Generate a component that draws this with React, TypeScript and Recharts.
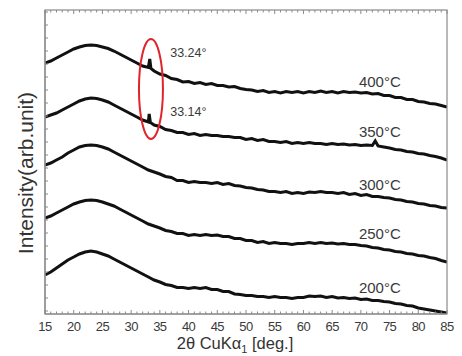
import React from 'react';
import { LineChart, Line, XAxis, YAxis, ReferenceDot } from 'recharts';

// 2θ sampling (deg.)
const angles = [
  15, 16, 17, 18, 19, 20, 21, 22, 23, 24, 25, 26, 27, 28, 29, 30, 31, 32, 33, 34,
  35, 36, 37, 38, 39, 40, 41, 42, 43, 44, 45, 46, 47, 48, 49, 50, 51, 52, 53, 54,
  55, 56, 57, 58, 59, 60, 61, 62, 63, 64, 65, 66, 67, 68, 69, 70, 71, 72, 73, 74,
  75, 76, 77, 78, 79, 80, 81, 82, 83, 84, 85,
];

// Intensity (arb. unit, vertically offset traces)
const i400 = [
  251, 253, 256, 259, 262, 265, 267, 268.5, 269, 268.5, 267, 265.5, 263, 260, 257, 254, 251, 248, 246.5, 243,
  240, 238.5, 235.5, 234.5, 232, 232.5, 230.5, 231.5, 229.5, 230.5, 228.5, 228.5, 227, 227.5, 225.5, 224.5, 224, 222.5, 223.5, 221.5,
  222.5, 221, 222.5, 221.5, 222.5, 221, 222.5, 221.5, 223, 221.5, 222.5, 221, 222.5, 221.5, 222, 221, 221.5, 220, 220.5, 218.5,
  218.5, 216.5, 216.5, 214.5, 214.5, 212.5, 212, 210.5, 210, 208.5, 207,
];
const i350 = [
  197, 199, 201, 204, 207, 210, 213, 215, 216, 215.5, 214, 212, 209, 206, 203, 200, 197, 194, 192, 189,
  187.5, 184.5, 183.5, 181.5, 181.5, 179.5, 180.5, 178.5, 179.5, 178.5, 178.5, 177.5, 177.5, 176.5, 176.5, 174.5, 175.5, 173.5, 174.5, 172.5,
  172.5, 171.5, 172.5, 170.5, 171.5, 170.5, 171.5, 170.5, 170.5, 169.5, 170.5, 169.5, 170, 169, 169.5, 168.5, 169, 168.5, 168, 167,
  166, 164.5, 164, 162.5, 162, 160.5, 160, 158.5, 157.5, 156, 154,
];
const i300 = [
  149, 151, 154, 157, 161, 164, 167, 168.5, 169, 168.5, 167, 165, 162, 159, 156, 153, 150, 147, 144, 142,
  140, 137.5, 136.5, 133.5, 133.5, 131.5, 132.5, 131.5, 131.5, 130.5, 131.5, 129.5, 130.5, 128.5, 128, 126.5, 126, 124.5, 124, 122.5,
  122.5, 121.5, 122.5, 120.5, 121.5, 120.5, 122, 121.5, 122.5, 121.5, 121.5, 120.5, 121.5, 119.5, 120.5, 118.5, 119.5, 117.5, 117.5, 116.5,
  116, 114.5, 114, 112.5, 112, 110.5, 110, 108.5, 108, 106.5, 106,
];
const i250 = [
  96, 98, 101, 104, 107, 110, 112, 113.5, 114, 113.5, 112, 110, 108, 105, 102, 99, 96, 93, 90, 88,
  86, 83.5, 82.5, 80.5, 80.5, 78.5, 79.5, 78.5, 79.5, 78.5, 79, 77.5, 77.5, 75.5, 75.5, 73.5, 73.5, 71.5, 72.5, 70.5,
  71.5, 70.5, 70.5, 69.5, 70.5, 70.5, 71.5, 70.5, 71.5, 70.5, 71, 70, 70.5, 69.5, 69.5, 68.5, 68, 66.5, 66, 64.5,
  64, 62.5, 62, 60.5, 60, 58.5, 58, 56.5, 55.5, 53.5, 52,
];
const i200 = [
  39, 42, 46, 50, 54, 57, 60, 62, 63, 62, 60, 58, 55, 52, 49, 46, 43, 40, 37, 34,
  32, 29.5, 28.5, 26.5, 26.5, 25.5, 26.5, 25.5, 26.5, 24.5, 24.5, 22.5, 22.5, 20, 19.5, 18.5, 18.5, 17.5, 17.5, 16.5,
  17.5, 16.5, 16.5, 15.5, 16.5, 16.5, 18, 17.5, 18, 16.5, 17.5, 16, 16.5, 15.5, 16, 14.5, 15, 13.5, 13.5, 12.5,
  12, 10.5, 10, 8.5, 8, 6, 5, 4, 3, 2, 1,
];

// Extra read points: sharp peaks and small bump
const extra400Angles = [33.24, 33.45];
const extra400Values = [255, 245.5];
const extra350Angles = [33.14, 33.35, 72.5];
const extra350Values = [200, 191.5, 173];

const seriesNames = ['400°C', '350°C', '300°C', '250°C', '200°C'];
const labelAngles = [73.3, 73.3, 73.3, 73.3, 73.3];
const labelValues = [233, 183, 130, 81, 27];

const peakTexts = ['33.24°', '33.14°'];
const peakTextAngles = [36.8, 36.8];
const peakTextValues = [261, 202];

const ellipseAngle = 33.45;
const ellipseValue = 225;

const xMajorTicks = [15, 20, 25, 30, 35, 40, 45, 50, 55, 60, 65, 70, 75, 80, 85];
const yMinorTicks = [3, 16, 29, 42, 55, 68, 81, 94, 107, 120, 133, 146, 159, 172, 185, 198, 211, 224, 237, 250, 263, 276, 289, 302];

const build = (vals: number[], exA: number[] = [], exV: number[] = []) => {
  const rows = angles.map((a, i) => ({ angle: a, v: vals[i] }));
  exA.forEach((a, i) => rows.push({ angle: a, v: exV[i] }));
  rows.sort((p, q) => p.angle - q.angle);
  return rows;
};

const seriesData = [
  build(i400, extra400Angles, extra400Values),
  build(i350, extra350Angles, extra350Values),
  build(i300),
  build(i250),
  build(i200),
];

const FONT = '"Liberation Sans", Arial, sans-serif';
const AXIS = '#8a8a8a';
const X_DOMAIN: [number, number] = [15, 85];
const Y_DOMAIN: [number, number] = [0, 304];
const MARGIN = { top: 10, right: 15, bottom: 0, left: 44 };

const BottomTick = (props: any) => {
  const { x, y, payload } = props;
  const major = xMajorTicks.includes(payload.value);
  return (
    <g>
      <line x1={x} x2={x} y1={y} y2={y - (major ? 4 : 2.5)} stroke={AXIS} strokeWidth={1} />
      {/* matching inward tick on the top frame edge */}
      <line x1={x} x2={x} y1={MARGIN.top} y2={MARGIN.top + (major ? 4 : 2.5)} stroke={AXIS} strokeWidth={1} />
      {major && (
        <text x={x} y={y + 16.5} textAnchor="middle" fontSize={13} letterSpacing={-0.6} fill="#3a3a3a" fontFamily={FONT}>
          {payload.value}
        </text>
      )}
    </g>
  );
};

const LeftTick = (props: any) => {
  const { x, y } = props;
  return <line x1={x} x2={x + 3} y1={y} y2={y} stroke={AXIS} strokeWidth={1} />;
};

const XTitle = (props: any) => {
  const vb = props.viewBox;
  const cx = vb.x + vb.width / 2 - 11;
  const top = MARGIN.top;
  return (
    <g>
      <rect
        x={vb.x}
        y={top}
        width={vb.width}
        height={vb.y - top}
        fill="none"
        stroke={AXIS}
        strokeWidth={1.2}
      />
      <text x={cx} y={vb.y + 35} textAnchor="middle" fontSize={16.5} fill="#333" fontFamily={FONT}>
        2θ CuKα
        <tspan fontSize={11} dy={4}>1</tspan>
        <tspan dy={-4}> [deg.]</tspan>
      </text>
    </g>
  );
};

const YTitle = (props: any) => {
  const vb = props.viewBox;
  const cx = vb.x - 19;
  const cy = vb.y + vb.height / 2 + 11;
  return (
    <text
      x={cx}
      y={cy}
      transform={`rotate(-90, ${cx}, ${cy})`}
      textAnchor="middle"
      dominantBaseline="central"
      fontSize={21}
      fill="#333"
      fontFamily={FONT}
    >
      Intensity(arb.unit)
    </text>
  );
};

const makeTextShape = (txt: string, size: number) => (p: any) => (
  <text x={p.cx} y={p.cy} textAnchor={size > 13 ? 'middle' : 'start'} dominantBaseline="central" fontSize={size} fill="#3a3a3a" fontFamily={FONT}>
    {txt}
  </text>
);

const EllipseShape = (p: any) => (
  <ellipse cx={p.cx} cy={p.cy} rx={12} ry={50} fill="none" stroke="#e0242c" strokeWidth={2} />
);

export default function App() {
  return (
    <div style={{ position: 'absolute', left: 0, top: 0, background: '#fff' }}>
      <LineChart width={462} height={356} margin={MARGIN}>
        <XAxis
          type="number"
          dataKey="angle"
          domain={X_DOMAIN}
          ticks={angles}
          interval={0}
          orientation="bottom"
          height={42}
          tickSize={0}
          tickMargin={0}
          tickLine={false}
          tick={<BottomTick />}
          axisLine={{ stroke: AXIS, strokeWidth: 1.2 }}
          label={<XTitle />}
          allowDataOverflow
        />
        <YAxis
          type="number"
          domain={Y_DOMAIN}
          ticks={yMinorTicks}
          interval={0}
          width={1}
          tickSize={0}
          tickMargin={0}
          tickLine={false}
          tick={<LeftTick />}
          axisLine={{ stroke: AXIS, strokeWidth: 1.2 }}
          label={<YTitle />}
          allowDataOverflow
        />
        {seriesData.map((d, i) => (
          <Line
            key={seriesNames[i]}
            data={d}
            dataKey="v"
            type="linear"
            stroke="#111"
            strokeWidth={3}
            dot={false}
            isAnimationActive={false}
          />
        ))}
        {seriesNames.map((n, i) => (
          <ReferenceDot
            key={'lab' + n}
            x={labelAngles[i]}
            y={labelValues[i]}
            r={0}
            ifOverflow="visible"
            shape={makeTextShape(n, 15)}
          />
        ))}
        {peakTexts.map((t, i) => (
          <ReferenceDot
            key={'pk' + t}
            x={peakTextAngles[i]}
            y={peakTextValues[i]}
            r={0}
            ifOverflow="visible"
            shape={makeTextShape(t, 12.5)}
          />
        ))}
        <ReferenceDot
          x={ellipseAngle}
          y={ellipseValue}
          r={0}
          ifOverflow="visible"
          shape={EllipseShape}
        />
      </LineChart>
    </div>
  );
}
